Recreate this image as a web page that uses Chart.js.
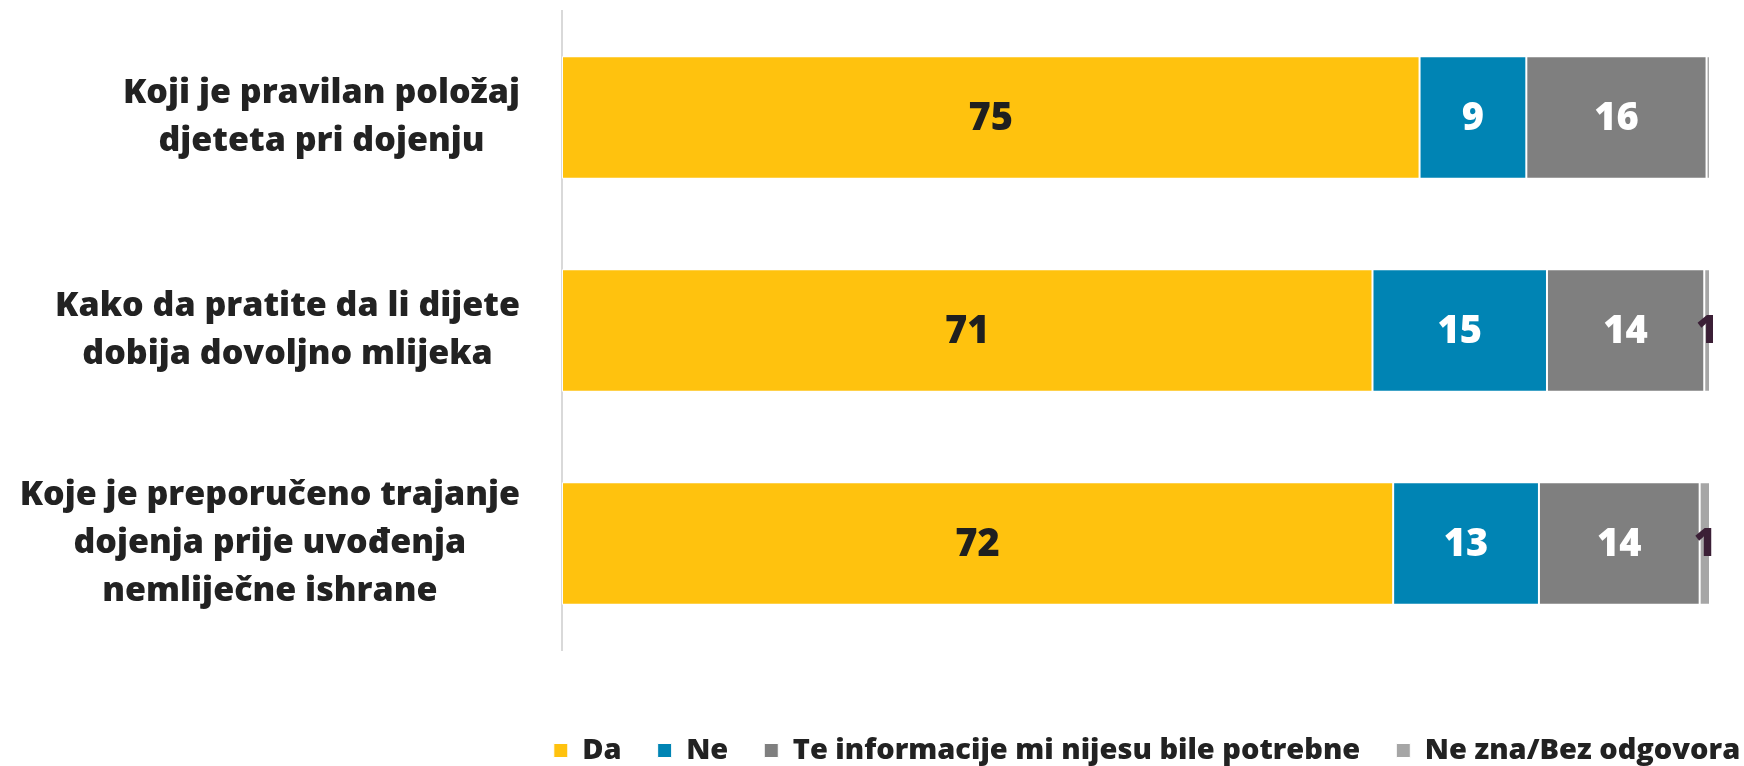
<!DOCTYPE html>
<html>
<head>
<meta charset="utf-8">
<script src="https://cdn.jsdelivr.net/npm/chart.js@4.4.0/dist/chart.umd.min.js"></script>
<style>
  html, body { margin: 0; padding: 0; background: #fff; }
  canvas { display: block; }
</style>
</head>
<body>
<canvas id="chart" width="1744" height="766"></canvas>
<script>
// data (percent)
const categories = [
  ['Koji je pravilan položaj', 'djeteta pri dojenju'],
  ['Kako da pratite da li dijete', 'dobija dovoljno mlijeka'],
  ['Koje je preporučeno trajanje', 'dojenja prije uvođenja', 'nemliječne ishrane']
];
const seriesNames = ['Da', 'Ne', 'Te informacije mi nijesu bile potrebne', 'Ne zna/Bez odgovora'];
const daValues = [74.7, 70.6, 72.4];
const neValues = [9.3, 15.2, 12.7];
const notNeededValues = [15.7, 13.7, 14.0];
const dontKnowValues = [0.3, 0.5, 0.9];

const barColors = ['#FFC20E', '#0084B4', '#7F7F7F', '#A6A6A6'];
const labelColors = ['#1f1f1f', '#ffffff', '#ffffff', '#3b1f36'];
const FONT = '"Open Sans", "Noto Sans", sans-serif';

// category labels: lines centred inside a block that sits left of the axis
const categoryLabels = {
  id: 'categoryLabels',
  afterDraw(chart) {
    const ctx = chart.ctx;
    const y = chart.scales.y;
    const right = chart.chartArea.left - 42;
    const lineH = 48;
    ctx.save();
    ctx.font = '800 34px ' + FONT;
    ctx.fillStyle = '#222222';
    ctx.textAlign = 'center';
    ctx.textBaseline = 'middle';
    categories.forEach((lines, i) => {
      const yc = y.getPixelForValue(i);
      const w = Math.max(...lines.map(l => ctx.measureText(l).width));
      const xc = right - w / 2;
      lines.forEach((l, k) => {
        ctx.fillText(l, xc, yc + (k - (lines.length - 1) / 2) * lineH);
      });
    });
    ctx.restore();
  }
};

// values in the middle of each segment
const valueLabels = {
  id: 'valueLabels',
  afterDatasetsDraw(chart) {
    const ctx = chart.ctx;
    const ca = chart.chartArea;
    ctx.save();
    ctx.beginPath();
    ctx.rect(ca.left, ca.top, ca.right - ca.left + 3, ca.bottom - ca.top);
    ctx.clip();
    ctx.font = '800 38px ' + FONT;
    ctx.textAlign = 'center';
    ctx.textBaseline = 'middle';
    chart.data.datasets.forEach((ds, di) => {
      chart.getDatasetMeta(di).data.forEach((bar, i) => {
        const txt = Math.round(ds.data[i]);
        if (txt < 1) return;
        ctx.fillStyle = labelColors[di];
        ctx.fillText(String(txt), (bar.x + bar.base) / 2, bar.y + 2);
      });
    });
    ctx.restore();
  }
};

// legend sits under the plot, centred on the bars rather than the page
const legendPlace = {
  id: 'legendPlace',
  afterLayout(chart) {
    const lg = chart.legend;
    const ca = chart.chartArea;
    const dx = (ca.left + ca.right) / 2 + 11 - (lg.left + lg.right) / 2;
    lg.left += dx;
    lg.right += dx;
    lg.top += 50;
    lg.bottom += 50;
  }
};

const seriesData = [daValues, neValues, notNeededValues, dontKnowValues];

new Chart(document.getElementById('chart'), {
  type: 'bar',
  data: {
    labels: categories,
    datasets: seriesData.map((vals, i) => ({
      label: seriesNames[i],
      data: vals,
      backgroundColor: barColors[i],
      borderColor: '#ffffff',
      borderWidth: 1,
      borderSkipped: false,
      barPercentage: 0.575,
      categoryPercentage: 1
    }))
  },
  options: {
    indexAxis: 'y',
    responsive: false,
    devicePixelRatio: 1,
    animation: false,
    layout: { padding: { top: 11, right: 34, bottom: 41, left: 0 } },
    scales: {
      x: { stacked: true, min: 0, max: 100, display: false },
      y: {
        stacked: true,
        grid: { display: false },
        ticks: { display: false },
        border: { display: true, color: '#d9d9d9', width: 2 },
        afterFit(scale) { scale.width = 562; }
      }
    },
    plugins: {
      tooltip: { enabled: false },
      legend: {
        position: 'bottom',
        align: 'center',
        labels: {
          font: { family: FONT, size: 29, weight: '800' },
          color: '#222222',
          boxWidth: 14,
          boxHeight: 14,
          padding: 36
        }
      }
    }
  },
  plugins: [categoryLabels, valueLabels, legendPlace]
});
</script>
</body>
</html>
